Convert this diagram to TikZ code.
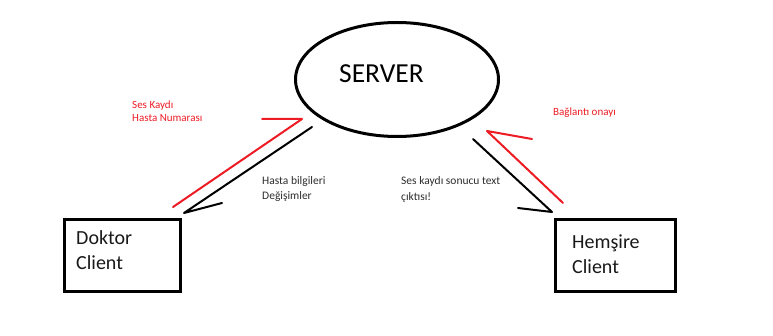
\documentclass[tikz,border=0pt]{standalone}
\usepackage{fontspec}
\setmainfont{Carlito}
\usetikzlibrary{shapes.geometric}
\definecolor{paintred}{RGB}{237,28,36}
\definecolor{inkgray}{RGB}{45,45,45}
\begin{document}
\begin{tikzpicture}[x=1pt,y=-1pt,
  outline/.style={draw=black,line width=3pt,inner sep=0pt},
  flowblack/.style={draw=black,line width=2pt,line join=round,line cap=round},
  flowred/.style={draw=paintred,line width=2pt,line join=round,line cap=round},
  note/.style={font=\fontsize{11}{13}\selectfont,align=left,anchor=base west,inner sep=0pt},
  boxtext/.style={font=\fontsize{20}{25}\selectfont,align=left,anchor=base west,inner sep=0pt,text=black!90}]
\useasboundingbox (0,0) rectangle (773,336);
\fill[white] (0,0) rectangle (773,336);

% server and the two clients
\node[ellipse,outline,minimum width=203pt,minimum height=114pt] (server) at (397,79.5) {};
\node[anchor=base west,inner sep=0pt,font=\fontsize{27.5}{30}\selectfont] (servertxt) at (339,83) {SERVER};

% multi-line labels are placed by the baseline of their last line
\node[rectangle,outline,minimum width=116pt,minimum height=72pt] (doktor) at (122.5,255.5) {};
\node[boxtext] (doktortxt) at (76,270) {Doktor\\Client};

\node[rectangle,outline,minimum width=120pt,minimum height=72pt] (hemsire) at (615.5,255.5) {};
\node[boxtext] (hemsiretxt) at (572,274) {Hemşire\\Client};

% arrow end points near the shapes
\coordinate (dr0) at (173,207);
\coordinate (dr1) at (302,119);
\coordinate (dr2) at (262,119);
\coordinate (db0) at (312,127);
\coordinate (db1) at (184,213);
\coordinate (db2) at (222,203);
\coordinate (hb0) at (473,139);
\coordinate (hb1) at (552,212);
\coordinate (hb2) at (518,208);
\coordinate (hr0) at (563,203);
\coordinate (hr1) at (487,131);
\coordinate (hr2) at (532,139);

% hand drawn half-headed arrows
\draw[flowred] (dr0) -- (dr1) -- (dr2);
\draw[flowblack] (db0) -- (db1) -- (db2);
\draw[flowblack] (hb0) -- (hb1) -- (hb2);
\draw[flowred] (hr0) -- (hr1) -- (hr2);

% message labels
\node[note,text=paintred] (lblses) at (132,122) {Ses Kaydı\\Hasta Numarası};
\node[note,text=paintred] (lblonay) at (553,116) {Bağlantı onayı};
\node[note,text=inkgray,font=\fontsize{11.5}{15}\selectfont] (lblbilgi) at (262,200) {Hasta bilgileri\\Değişimler};
\node[note,text=inkgray,font=\fontsize{11.5}{16}\selectfont] (lblsonuc) at (401,201) {Ses kaydı sonucu text\\çıktısı!};
\end{tikzpicture}
\end{document}
